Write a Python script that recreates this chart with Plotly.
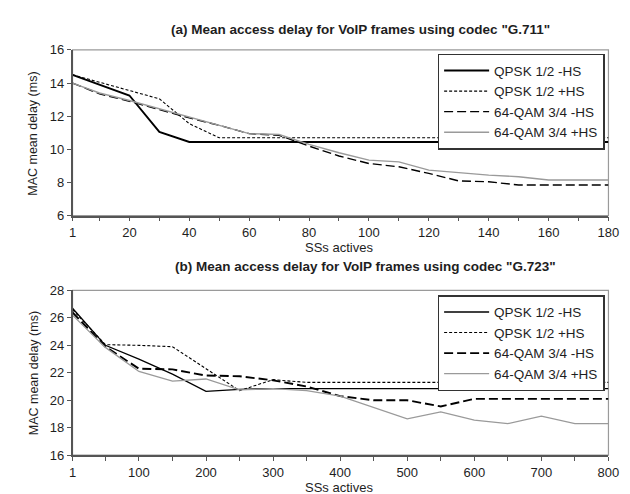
import plotly.graph_objects as go

# ---------- data ----------
series_names = ["QPSK 1/2 -HS", "QPSK 1/2 +HS", "64-QAM 3/4 -HS", "64-QAM 3/4 +HS"]

x_a = [1, 10, 20, 30, 40, 50, 60, 70, 80, 90, 100, 110, 120, 130, 140, 150, 160, 170, 180]
qpsk_minus_a = [14.5, 13.9, 13.25, 11.05, 10.45, 10.45, 10.45, 10.45, 10.45, 10.45, 10.45,
                10.45, 10.45, 10.45, 10.45, 10.45, 10.45, 10.45, 10.45]
qpsk_plus_a = [14.5, 14.05, 13.55, 13.05, 11.55, 10.7, 10.7, 10.7, 10.7, 10.7, 10.7,
               10.7, 10.7, 10.7, 10.7, 10.7, 10.7, 10.7, 10.7]
qam_minus_a = [14.0, 13.35, 12.9, 12.4, 11.9, 11.45, 10.95, 10.85, 10.2, 9.6, 9.15,
               8.95, 8.55, 8.1, 8.05, 7.85, 7.85, 7.85, 7.85]
qam_plus_a = [14.0, 13.4, 12.95, 12.45, 11.95, 11.45, 10.95, 10.9, 10.3, 9.8, 9.35,
              9.25, 8.75, 8.6, 8.45, 8.35, 8.15, 8.15, 8.15]

x_b = [1, 50, 100, 150, 200, 250, 300, 350, 400, 450, 500, 550, 600, 650, 700, 750, 800]
qpsk_minus_b = [26.7, 24.0, 23.0, 21.9, 20.65, 20.8, 20.85, 20.85, 20.85, 20.85, 20.85,
                20.85, 20.85, 20.85, 20.85, 20.85, 20.85]
qpsk_plus_b = [26.6, 24.05, 24.0, 23.9, 22.3, 20.7, 21.5, 21.3, 21.3, 21.3, 21.3,
               21.3, 21.3, 21.3, 21.3, 21.3, 21.3]
qam_minus_b = [26.4, 23.9, 22.3, 22.25, 21.8, 21.75, 21.45, 21.0, 20.3, 20.0, 20.0,
               19.55, 20.1, 20.1, 20.1, 20.1, 20.1]
qam_plus_b = [26.2, 23.85, 22.1, 21.4, 21.55, 20.75, 20.85, 20.7, 20.3, 19.45, 18.65,
              19.15, 18.55, 18.3, 18.85, 18.3, 18.3]

ticks_a = [1] + list(range(10, 181, 10))
ticklabels_a = [str(t) if (t == 1 or t % 20 == 0) else "" for t in ticks_a]
ticks_b = [1] + list(range(50, 801, 50))
ticklabels_b = [str(t) if (t == 1 or t % 100 == 0) else "" for t in ticks_b]

title_a = '(a) Mean access delay for VoIP frames using codec "G.711"'
title_b = '(b) Mean access delay for VoIP frames using codec "G.723"'
y_title = "MAC mean delay (ms)"
x_title = "SSs actives"

# ---------- styles ----------
FONT = "Liberation Sans, Arial, sans-serif"
TXT = "#1e1e1e"
styles_a = [
    dict(color="black", width=1.9, dash="solid"),
    dict(color="black", width=1.1, dash="3px,2px"),
    dict(color="black", width=1.4, dash="9px,4px"),
    dict(color="#9a9a9a", width=1.4, dash="solid"),
]
styles_b = [
    dict(color="black", width=1.3, dash="solid"),
    dict(color="black", width=1.1, dash="3px,2px"),
    dict(color="black", width=1.9, dash="9px,4px"),
    dict(color="#9a9a9a", width=1.3, dash="solid"),
]

W, H = 630, 494
def px_x(p):
    return p / W
def px_y(p):
    return (H - p) / H

fig = go.Figure()
for name, ys, st in zip(series_names, [qpsk_minus_a, qpsk_plus_a, qam_minus_a, qam_plus_a], styles_a):
    fig.add_trace(go.Scatter(x=x_a, y=ys, mode="lines", name=name, line=st,
                             xaxis="x", yaxis="y", legend="legend"))
for name, ys, st in zip(series_names, [qpsk_minus_b, qpsk_plus_b, qam_minus_b, qam_plus_b], styles_b):
    fig.add_trace(go.Scatter(x=x_b, y=ys, mode="lines", name=name, line=st,
                             xaxis="x2", yaxis="y2", legend="legend2"))

xdom = [px_x(62), px_x(611)]
axis_common = dict(showgrid=False, zeroline=False, showline=True, linecolor="#555555",
                   linewidth=1.5, ticks="outside", ticklen=4, tickcolor="#555555",
                   tickfont=dict(family=FONT, size=13, color=TXT))

legend_common = dict(xanchor="left", yanchor="top", bgcolor="white",
                     bordercolor="#333333", borderwidth=1.5,
                     font=dict(family=FONT, size=13.5, color=TXT),
                     tracegroupgap=0, itemwidth=45)

fig.update_layout(
    width=W, height=H,
    margin=dict(l=0, r=0, t=0, b=0),
    paper_bgcolor="white", plot_bgcolor="white",
    font=dict(family=FONT, color=TXT),
    xaxis=dict(domain=xdom, range=[1, 180], tickmode="array", tickvals=ticks_a,
               ticktext=ticklabels_a, anchor="y", **axis_common),
    yaxis=dict(domain=[px_y(207), px_y(36)], range=[6, 16], tickmode="array",
               tickvals=[6, 8, 10, 12, 14, 16], anchor="x", **axis_common),
    xaxis2=dict(domain=xdom, range=[1, 800], tickmode="array", tickvals=ticks_b,
                ticktext=ticklabels_b, anchor="y2", **axis_common),
    yaxis2=dict(domain=[px_y(454), px_y(284)], range=[16, 28], tickmode="array",
                tickvals=[16, 18, 20, 22, 24, 26, 28], anchor="x2", **axis_common),
    legend=dict(x=px_x(436), y=px_y(40), **legend_common),
    legend2=dict(x=px_x(436), y=px_y(289), **legend_common),
    showlegend=True,
)

# gray frame (top / right borders)
for xr, yr in [("x domain", "y domain"), ("x2 domain", "y2 domain")]:
    fig.add_shape(type="rect", xref=xr, yref=yr, x0=0, x1=1, y0=0, y1=1,
                  line=dict(color="#9a9a9a", width=1.2), layer="below")

annots = [
    dict(text="<b>" + title_a + "</b>", x=px_x(357), y=px_y(15), size=13.5),
    dict(text="<b>" + title_b + "</b>", x=px_x(362), y=px_y(259), size=13.5),
    dict(text=x_title, x=px_x(335), y=px_y(240), size=13),
    dict(text=x_title, x=px_x(335), y=px_y(487), size=13),
]
for a in annots:
    fig.add_annotation(text=a["text"], x=a["x"], y=a["y"], xref="paper", yref="paper",
                       showarrow=False, xanchor="center", yanchor="middle",
                       font=dict(family=FONT, size=a["size"], color=TXT))
for yc in [px_y(122), px_y(369)]:
    fig.add_annotation(text=y_title, x=px_x(22), y=yc, xref="paper", yref="paper",
                       showarrow=False, textangle=-90, xanchor="center", yanchor="middle",
                       font=dict(family=FONT, size=12.5, color=TXT))

fig.write_html("out.html")
